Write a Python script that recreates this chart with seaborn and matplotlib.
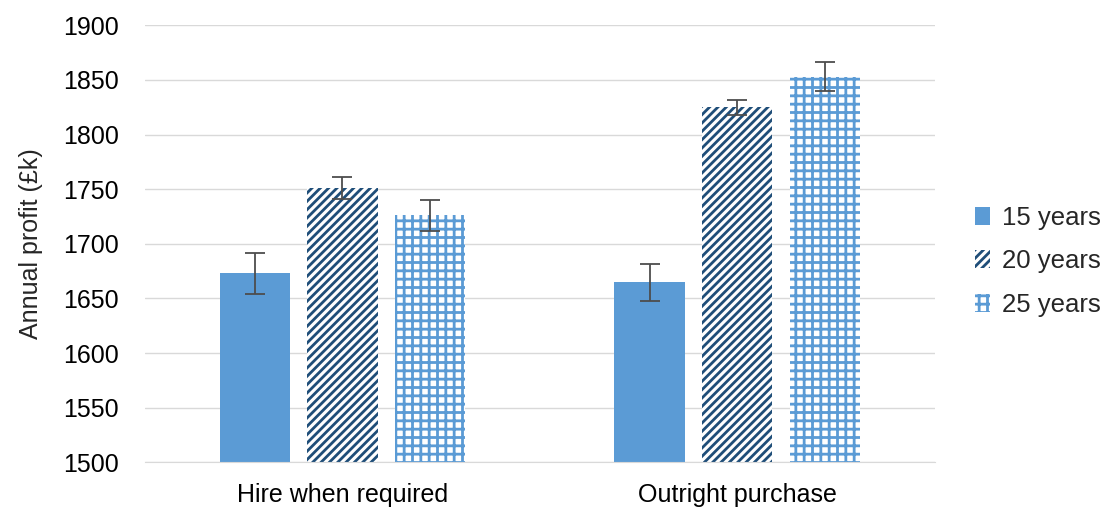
import matplotlib
matplotlib.use("Agg")
import matplotlib.pyplot as plt
import seaborn as sns
import pandas as pd
import numpy as np
from matplotlib.patches import Patch

categories = ["Hire when required", "Outright purchase"]
series = ["15 years", "20 years", "25 years"]
profit = {
    "15 years": [1673, 1665],
    "20 years": [1751, 1825],
    "25 years": [1726, 1853],
}
err = {
    "15 years": [19, 17],
    "20 years": [10, 7],
    "25 years": [14, 13],
}

sns.set_style("white")
plt.rcParams["font.family"] = ["Liberation Sans", "DejaVu Sans"]
plt.rcParams["hatch.linewidth"] = 2.0

rows = []
for s in series:
    for c, v in zip(categories, profit[s]):
        rows.append({"category": c, "series": s, "profit": v})
df = pd.DataFrame(rows)

light = "#5B9BD5"
dark = "#1F4E79"

fig = plt.figure(figsize=(11.03, 5.07), dpi=100)
ax = fig.add_axes([0.1315, 0.088, 0.716, 0.862])

sns.barplot(data=df, x="category", y="profit", hue="series", order=categories,
            hue_order=series, palette=[light, light, light], width=0.667, gap=0.2,
            errorbar=None, ax=ax, legend=False, zorder=2)

styles = [
    dict(facecolor=light, edgecolor=light, hatch=None),
    dict(facecolor="white", edgecolor=dark, hatch="////"),
    dict(facecolor="white", edgecolor=light, hatch="++"),
]
for cont, s, st in zip(ax.containers, series, styles):
    for patch, e in zip(cont.patches, err[s]):
        patch.set_facecolor(st["facecolor"])
        patch.set_edgecolor(st["edgecolor"])
        patch.set_linewidth(0)
        if st["hatch"]:
            patch.set_hatch(st["hatch"])
        x = patch.get_x() + patch.get_width() / 2
        ax.errorbar(x, patch.get_height(), yerr=e, color="#4D4D4D",
                    elinewidth=1.3, capsize=7, capthick=1.3, zorder=3)

ax.set_ylim(1500, 1900)
ax.set_yticks(np.arange(1500, 1901, 50))
ax.set_xlim(-0.5, 1.5)
ax.yaxis.grid(True, color="#D9D9D9", linewidth=1, zorder=0)
ax.set_axisbelow(True)
for side in ["left", "right", "top"]:
    ax.spines[side].set_visible(False)
ax.spines["bottom"].set_color("#D9D9D9")
ax.tick_params(axis="both", labelsize=18, length=0, colors="#000000")
ax.tick_params(axis="y", pad=19)
ax.tick_params(axis="x", pad=15)
ax.set_xlabel("")
ax.set_ylabel("Annual profit (£k)", fontsize=18, labelpad=14)

handles = [Patch(facecolor=st["facecolor"], edgecolor=st["edgecolor"],
                 hatch=st["hatch"], linewidth=0) for st in styles]
ax.legend(handles, series, loc="center left", bbox_to_anchor=(1.051, 0.46),
          frameon=False, fontsize=18.5, handlelength=0.6, handleheight=0.7,
          handletextpad=0.45, labelspacing=0.75, borderpad=0, borderaxespad=0)

fig.savefig("out.png", dpi=100)
